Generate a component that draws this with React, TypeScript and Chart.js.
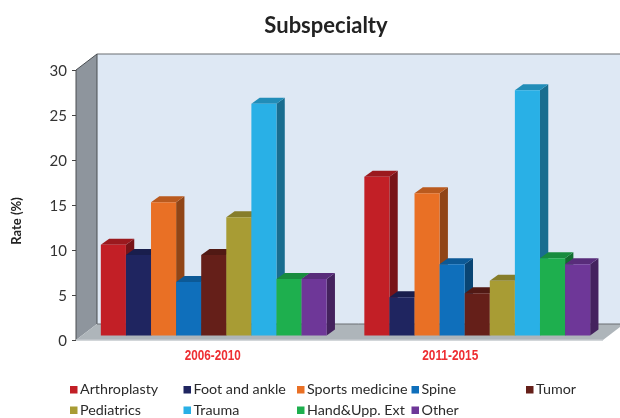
import React, { useEffect, useRef } from "react";
import { Chart, registerables } from "chart.js";

Chart.register(...registerables);

const chartTitle = "Subspecialty";
const yAxisTitle = "Rate (%)";
const periods = ["2006-2010", "2011-2015"];
const arthroplasty = [10.15, 17.7];
const footAndAnkle = [9.0, 4.3];
const sportsMedicine = [14.85, 15.85];
const spine = [6.0, 7.97];
const tumor = [9.0, 4.74];
const pediatrics = [13.2, 6.15];
const trauma = [25.8, 27.3];
const handUppExt = [6.33, 8.63];
const other = [6.33, 7.97];

const seriesNames = ["Arthroplasty", "Foot and ankle", "Sports medicine", "Spine", "Tumor", "Pediatrics", "Trauma", "Hand&Upp. Ext", "Other"];
const seriesValues = [arthroplasty, footAndAnkle, sportsMedicine, spine, tumor, pediatrics, trauma, handUppExt, other];
const seriesColors = ["#C21F26", "#1F2560", "#E97025", "#0F6FBB", "#651F19", "#A89C34", "#29B0E6", "#1EAF4E", "#6E3798"];

const FONT = "Lato, 'Open Sans', sans-serif";
const DEPTH_X = 21, DEPTH_Y = 16;
const BAR_DX = 6, BAR_DY = -4, BAR_DEPTH_X = 8.3, BAR_DEPTH_Y = 6;
const CATEGORY_LABEL_SHIFT = [5, -21];
const LEGEND_COLUMNS = [70, 183.5, 297, 411.5, 526];
const LEGEND_ROWS = [389.5, 410];
const LEGEND_PER_ROW = 5;

function shade(hex: string, f: number) {
  const n = parseInt(hex.slice(1), 16);
  const c = (s: number) => Math.round(((n >> s) & 255) * f);
  return `rgb(${c(16)},${c(8)},${c(0)})`;
}

function poly(ctx: CanvasRenderingContext2D, pts: number[][], fill: string | CanvasGradient, stroke?: string, lw = 1) {
  ctx.beginPath();
  pts.forEach((p, i) => (i ? ctx.lineTo(p[0], p[1]) : ctx.moveTo(p[0], p[1])));
  ctx.closePath();
  ctx.fillStyle = fill;
  ctx.fill();
  if (stroke) {
    ctx.strokeStyle = stroke;
    ctx.lineWidth = lw;
    ctx.stroke();
  }
}

const box3d = {
  id: "box3d",
  afterLayout(chart: any) {
    if (chart.titleBlock) {
      chart.titleBlock.left = 0;
      chart.titleBlock.right = 652;
    }
  },
  beforeDraw(chart: any) {
    const { ctx, chartArea: a } = chart;
    const wr = chart.width;
    ctx.save();
    // back wall
    poly(ctx, [[a.left + DEPTH_X, a.top - DEPTH_Y], [wr, a.top - DEPTH_Y], [wr, a.bottom - DEPTH_Y], [a.left + DEPTH_X, a.bottom - DEPTH_Y]], "#DEE8F4");
    ctx.strokeStyle = "#6A6E72";
    ctx.lineWidth = 1.2;
    ctx.beginPath();
    ctx.moveTo(a.left + DEPTH_X, a.top - DEPTH_Y);
    ctx.lineTo(wr, a.top - DEPTH_Y);
    ctx.stroke();
    // side wall
    poly(ctx, [[a.left, a.top], [a.left + DEPTH_X, a.top - DEPTH_Y], [a.left + DEPTH_X, a.bottom - DEPTH_Y], [a.left, a.bottom]], "#8E959D");
    ctx.strokeStyle = "#4A4E52";
    ctx.lineWidth = 1;
    ctx.beginPath();
    ctx.moveTo(a.left, a.bottom);
    ctx.lineTo(a.left, a.top);
    ctx.lineTo(a.left + DEPTH_X, a.top - DEPTH_Y);
    ctx.lineTo(a.left + DEPTH_X, a.bottom - DEPTH_Y);
    ctx.stroke();
    // floor
    poly(ctx, [[a.left, a.bottom], [a.left + DEPTH_X, a.bottom - DEPTH_Y], [a.right + DEPTH_X, a.bottom - DEPTH_Y], [a.right, a.bottom]], "#AEB5BA");
    ctx.strokeStyle = "#6A6E72";
    ctx.beginPath();
    ctx.moveTo(a.left + DEPTH_X, a.bottom - DEPTH_Y);
    ctx.lineTo(wr, a.bottom - DEPTH_Y);
    ctx.stroke();
    ctx.strokeStyle = "#C3C8CC";
    ctx.lineWidth = 1.5;
    ctx.beginPath();
    ctx.moveTo(a.left, a.bottom);
    ctx.lineTo(a.right, a.bottom);
    ctx.stroke();
    ctx.restore();
  },
  beforeDatasetsDraw(chart: any) {
    const { ctx } = chart;
    ctx.save();
    ctx.translate(BAR_DX, BAR_DY);
    chart.data.datasets.forEach((_: any, i: number) => {
      chart.getDatasetMeta(i).data.forEach((el: any) => {
        const { x, y, base, width } = el.getProps(["x", "y", "base", "width"], true);
        const c = el.options.backgroundColor;
        const l = x - width / 2, r = x + width / 2;
        poly(ctx, [[r, y], [r + BAR_DEPTH_X, y - BAR_DEPTH_Y], [r + BAR_DEPTH_X, base - BAR_DEPTH_Y], [r, base]], shade(c, 0.62));
        poly(ctx, [[l, y], [r, y], [r + BAR_DEPTH_X, y - BAR_DEPTH_Y], [l + BAR_DEPTH_X, y - BAR_DEPTH_Y]], shade(c, 0.8));
        el.draw(ctx);
      });
    });
    ctx.restore();
    return false;
  },
  afterDraw(chart: any) {
    const { ctx, scales } = chart;
    ctx.save();
    // category labels
    ctx.font = "bold 15px 'Liberation Sans', sans-serif";
    ctx.fillStyle = "#EE2E32";
    ctx.textAlign = "center";
    ctx.textBaseline = "middle";
    chart.data.labels.forEach((lab: string, i: number) => {
      ctx.fillText(lab, scales.x.getPixelForTick(i) + CATEGORY_LABEL_SHIFT[i], 356, 56);
    });
    // y axis title
    ctx.save();
    ctx.translate(17, 221);
    ctx.rotate(-Math.PI / 2);
    ctx.font = `bold 13px ${FONT}`;
    ctx.fillStyle = "#222";
    ctx.fillText(yAxisTitle, 0, 0);
    ctx.restore();
    // legend
    ctx.textAlign = "left";
    ctx.font = `14.3px ${FONT}`;
    chart.data.datasets.forEach((ds: any, i: number) => {
      const cx = LEGEND_COLUMNS[i % LEGEND_PER_ROW];
      const cy = LEGEND_ROWS[Math.floor(i / LEGEND_PER_ROW)];
      ctx.fillStyle = ds.backgroundColor;
      ctx.fillRect(cx, cy - 3.5, 7.5, 7.5);
      ctx.fillStyle = "#2A2A2A";
      ctx.fillText(ds.label, cx + 10, cy);
    });
    ctx.restore();
  },
};

export default function App() {
  const ref = useRef<HTMLCanvasElement>(null);
  useEffect(() => {
    const chart = new Chart(ref.current!, {
      type: "bar",
      data: {
        labels: periods,
        datasets: seriesNames.map((name, i) => ({
          label: name,
          data: seriesValues[i],
          backgroundColor: seriesColors[i],
          categoryPercentage: 0.857,
          barPercentage: 1,
        })),
      },
      options: {
        responsive: false,
        animation: false,
        devicePixelRatio: 1,
        layout: { padding: { left: 0, right: 17, top: 0, bottom: 0 } },
        plugins: {
          legend: { display: false },
          tooltip: { enabled: false },
          title: {
            display: true,
            text: chartTitle,
            color: "#222",
            font: { family: FONT, size: 22, weight: "bold", lineHeight: 1.2 },
            padding: { top: 13, bottom: 30.6 },
          },
        },
        scales: {
          x: {
            grid: { display: false },
            border: { display: false },
            ticks: { display: false },
            afterFit: (s: any) => { s.height = 78; },
          },
          y: {
            min: 0,
            max: 30,
            grid: { drawOnChartArea: false, tickLength: 4, color: "#444", drawTicks: true },
            border: { display: false },
            ticks: { stepSize: 5, padding: 5, color: "#333", labelOffset: 1.5, font: { family: FONT, size: 15 } },
            afterFit: (s: any) => { s.width = 76; },
          },
        },
      },
      plugins: [box3d],
    } as any);
    return () => chart.destroy();
  }, []);
  return (
    <div style={{ position: "absolute", left: 0, top: 0, width: 620, height: 418 }}>
      <canvas ref={ref} width={620} height={418} style={{ display: "block" }} />
    </div>
  );
}
